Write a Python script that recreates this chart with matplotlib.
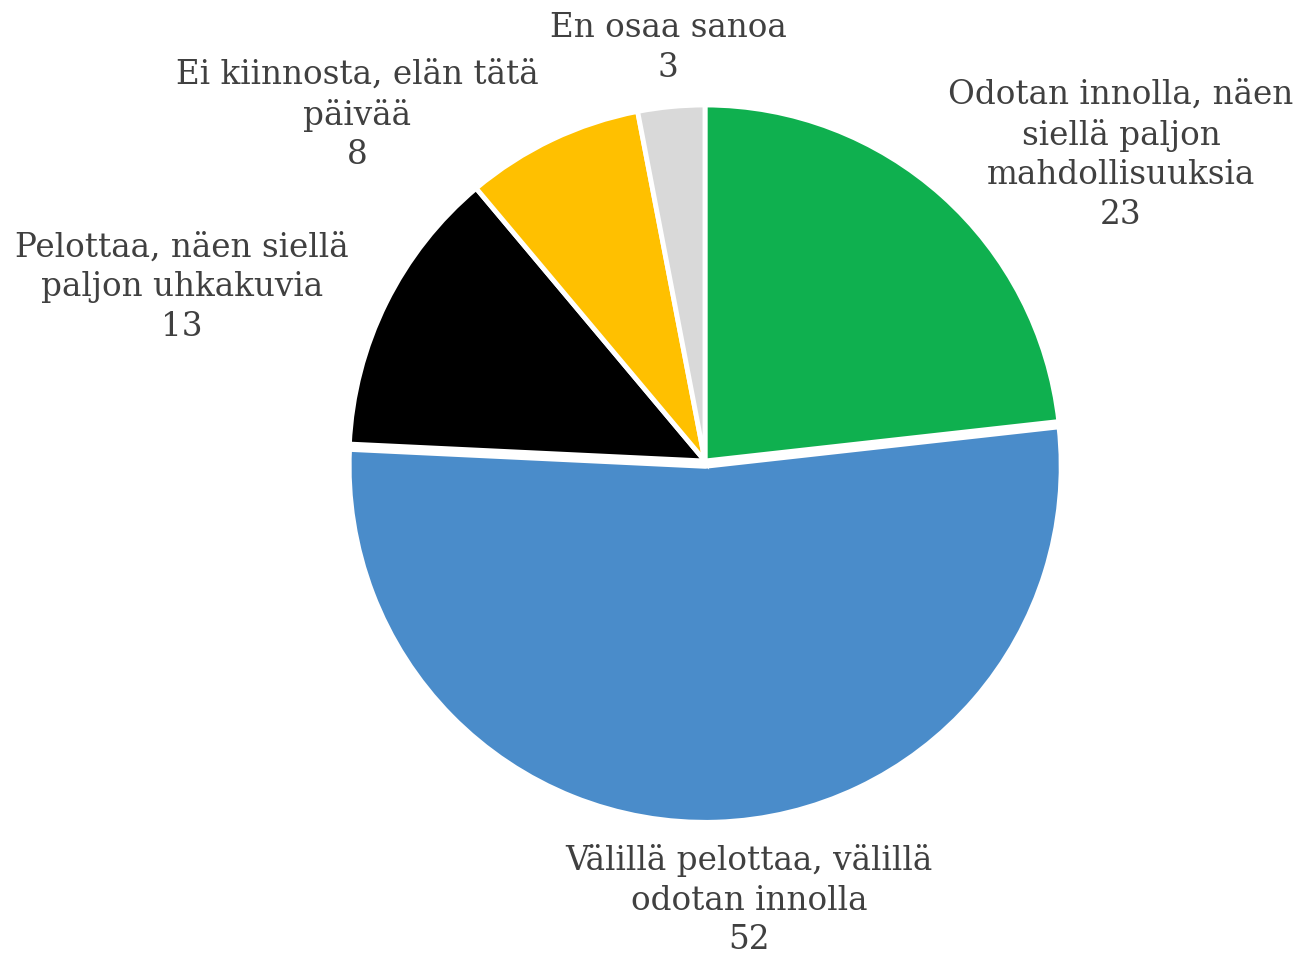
import matplotlib
matplotlib.use('Agg')
import matplotlib.pyplot as plt

categories = ['Odotan innolla, näen\nsiellä paljon\nmahdollisuuksia',
              'Välillä pelottaa, välillä\nodotan innolla',
              'Pelottaa, näen siellä\npaljon uhkakuvia',
              'Ei kiinnosta, elän tätä\npäivää',
              'En osaa sanoa']
values = [23, 52, 13, 8, 3]
colors = ['#0FB04F', '#4A8CCA', '#000000', '#FFC000', '#D9D9D9']
explode = [0, 0.015, 0, 0, 0]

# label centres (pixels, top-left origin)
label_pos = [(1121, 155), (749, 900), (182, 287), (357, 115), (668, 48)]

W, H = 1304, 962
fig = plt.figure(figsize=(W / 100, H / 100), dpi=100)
cx, cy, r = 705, 462, 356
ax = fig.add_axes([(cx - r) / W, (H - cy - r) / H, 2 * r / W, 2 * r / H])
ax.pie(values, colors=colors, startangle=90, counterclock=False, explode=explode,
       radius=1, wedgeprops={'edgecolor': 'white', 'linewidth': 3.5})
ax.set_xlim(-1, 1)
ax.set_ylim(-1, 1)
ax.axis('off')

for cat, v, (x, y) in zip(categories, values, label_pos):
    fig.text(x / W, 1 - y / H, f'{cat}\n{v}', ha='center', va='center',
             fontsize=23.5, color='#404040', family='DejaVu Serif', linespacing=1.3)

fig.savefig('out.png', dpi=100, facecolor='white')
